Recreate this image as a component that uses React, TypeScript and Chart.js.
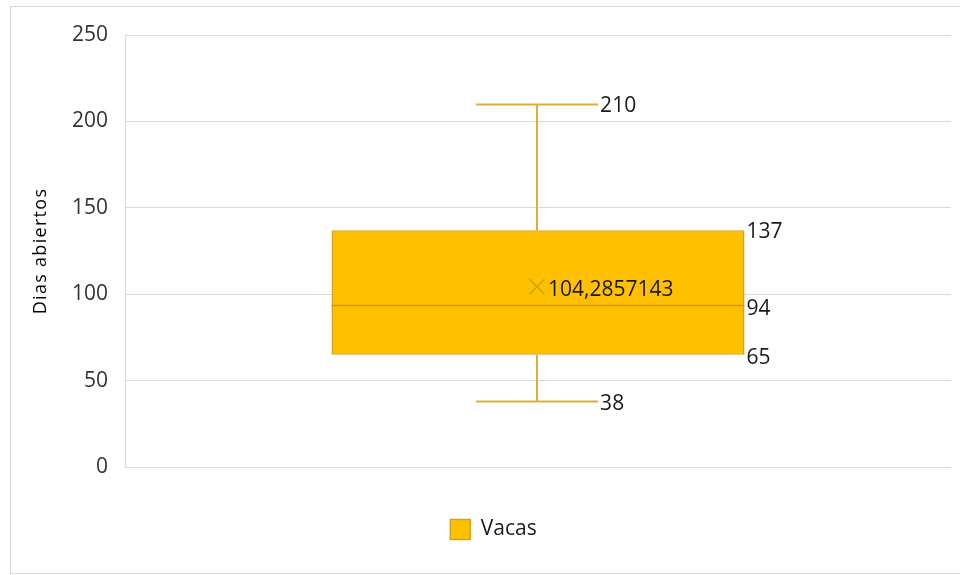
import React, { useEffect, useRef } from "react";
import { Chart, registerables } from "chart.js";

Chart.register(...registerables);

const categories = ["Vacas"];
const seriesName = "Vacas";
const minValues = [38];
const q1Values = [65];
const medianValues = [94];
const q3Values = [137];
const maxValues = [210];
const meanValues = [104.2857143];
const meanLabels = ["104,2857143"];
const yMin = 0;
const yMax = 250;
const yStep = 50;
const yTitle = "Dias abiertos";

const FONT = "'Open Sans', 'DejaVu Sans', sans-serif";
const FILL = "#FFC000";
const BORDER = "#D6A21E";
const WHISKER = "#DDB035";
const LABEL_COLOR = "#1A1A1A";
const TICK_COLOR = "#333333";
const GRID = "#D9D9D9";

const boxPlotPlugin = {
  id: "boxPlotExtras",
  beforeDraw(chart: any) {
    const ctx = chart.ctx;
    ctx.save();
    ctx.strokeStyle = "#D9D9D9";
    ctx.lineWidth = 1;
    ctx.strokeRect(10.5, 6.5, 960, 567);
    ctx.restore();
  },
  beforeDatasetsDraw(chart: any) {
    const ctx = chart.ctx;
    const x = chart.scales.x;
    const y = chart.scales.y;
    const meta = chart.getDatasetMeta(0);
    ctx.save();
    categories.forEach((_, i) => {
      const bar = meta.data[i];
      const cx = bar.x - 1;
      const capHalf = (x.width / categories.length) * 0.074;
      ctx.strokeStyle = WHISKER;
      ctx.lineWidth = 2;
      const yMaxP = Math.round(y.getPixelForValue(maxValues[i])) + 0.5;
      const yMinP = Math.round(y.getPixelForValue(minValues[i])) + 0.5;
      const yQ3 = y.getPixelForValue(q3Values[i]);
      const yQ1 = y.getPixelForValue(q1Values[i]);
      ctx.beginPath();
      ctx.moveTo(cx, yMaxP);
      ctx.lineTo(cx, yQ3);
      ctx.moveTo(cx, yQ1);
      ctx.lineTo(cx, yMinP);
      ctx.moveTo(cx - capHalf, yMaxP);
      ctx.lineTo(cx + capHalf, yMaxP);
      ctx.moveTo(cx - capHalf, yMinP);
      ctx.lineTo(cx + capHalf, yMinP);
      ctx.stroke();
    });
    ctx.restore();
  },
  afterDatasetsDraw(chart: any) {
    const ctx = chart.ctx;
    const x = chart.scales.x;
    const y = chart.scales.y;
    const meta = chart.getDatasetMeta(0);
    ctx.save();
    categories.forEach((_, i) => {
      const bar = meta.data[i];
      const cx = bar.x - 1;
      const half = bar.width / 2;
      const capHalf = (x.width / categories.length) * 0.074;
      // median
      const yMed = Math.round(y.getPixelForValue(medianValues[i])) + 0.5;
      ctx.strokeStyle = "#C99A10";
      ctx.lineWidth = 1.5;
      ctx.beginPath();
      ctx.moveTo(bar.x - half, yMed);
      ctx.lineTo(bar.x + half, yMed);
      ctx.stroke();
      // mean X
      const yMean = y.getPixelForValue(meanValues[i]);
      ctx.strokeStyle = "rgba(190,150,20,0.75)";
      ctx.lineWidth = 1.5;
      const s = 7.5;
      ctx.beginPath();
      ctx.moveTo(cx - s, yMean - s);
      ctx.lineTo(cx + s, yMean + s);
      ctx.moveTo(cx - s, yMean + s);
      ctx.lineTo(cx + s, yMean - s);
      ctx.stroke();
      // labels
      ctx.fillStyle = LABEL_COLOR;
      ctx.font = `21px ${FONT}`;
      ctx.textAlign = "left";
      ctx.textBaseline = "middle";
      ctx.fillText(String(maxValues[i]), cx + capHalf + 2, y.getPixelForValue(maxValues[i]) + 2);
      ctx.fillText(String(minValues[i]), cx + capHalf + 2, y.getPixelForValue(minValues[i]) + 3);
      ctx.fillText(String(q3Values[i]), bar.x + half + 2, y.getPixelForValue(q3Values[i]) + 2);
      ctx.fillText(String(medianValues[i]), bar.x + half + 2, y.getPixelForValue(medianValues[i]) + 4);
      ctx.fillText(String(q1Values[i]), bar.x + half + 2, y.getPixelForValue(q1Values[i]) + 3);
      ctx.fillText(meanLabels[i], cx + 11, yMean + 3);
    });
    // y title
    ctx.save();
    ctx.translate(41, (chart.chartArea.top + chart.chartArea.bottom) / 2);
    ctx.rotate(-Math.PI / 2);
    ctx.fillStyle = "#000000";
    ctx.font = `18px ${FONT}`;
    (ctx as any).letterSpacing = "1.3px";
    ctx.textAlign = "center";
    ctx.textBaseline = "middle";
    ctx.fillText(yTitle, 0, 0);
    ctx.restore();
    ctx.restore();
  },
};

export default function App() {
  const canvasRef = useRef<HTMLCanvasElement | null>(null);

  useEffect(() => {
    const canvas = canvasRef.current;
    if (!canvas) return;
    const chart = new Chart(canvas, {
      type: "bar",
      data: {
        labels: categories,
        datasets: [
          {
            label: seriesName,
            data: categories.map((_, i) => [q1Values[i], q3Values[i]]) as any,
            backgroundColor: FILL,
            borderColor: BORDER,
            borderWidth: 1.5,
            borderSkipped: false,
            barPercentage: 0.5,
            categoryPercentage: 1,
          },
        ],
      },
      options: {
        responsive: false,
        animation: false,
        layout: { padding: { left: 36, right: 9, top: 35, bottom: 25 } },
        scales: {
          x: {
            display: true,
            ticks: { display: false },
            grid: { display: false },
            border: { display: false },
            afterFit: (s: any) => {
              s.height = 42;
            },
          },
          y: {
            min: yMin,
            max: yMax,
            ticks: {
              stepSize: yStep,
              padding: 17,
              color: TICK_COLOR,
              font: { family: FONT, size: 21 },
            },
            grid: { color: GRID, lineWidth: 1, drawTicks: false },
            border: { display: true, color: GRID, width: 1 },
            afterFit: (s: any) => {
              s.width = 89;
            },
          },
        },
        plugins: {
          legend: {
            display: true,
            position: "bottom",
            labels: {
              boxWidth: 20,
              boxHeight: 20,
              padding: 10,
              color: LABEL_COLOR,
              font: { family: FONT, size: 21 },
            },
          },
          tooltip: { enabled: false },
        },
      },
      plugins: [boxPlotPlugin],
    });
    return () => chart.destroy();
  }, []);

  return (
    <div style={{ position: "absolute", left: 0, top: 0, width: 960, height: 575, background: "#fff" }}>
      <canvas ref={canvasRef} width={960} height={575} style={{ display: "block" }} />
    </div>
  );
}
